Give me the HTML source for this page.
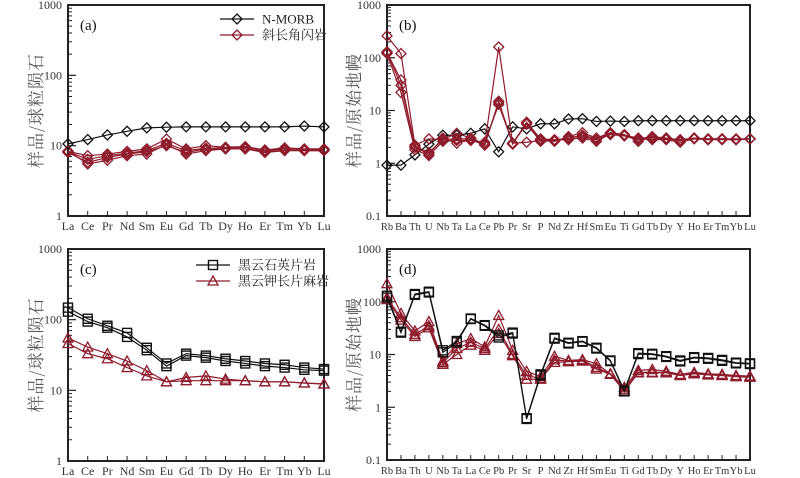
<!DOCTYPE html>
<html><head><meta charset="utf-8">
<style>
html,body{margin:0;padding:0;background:#fff;}
svg{display:block;font-family:"Liberation Serif","Noto Serif CJK SC",serif;}
</style></head>
<body>
<svg id="chart" width="800" height="478" viewBox="0 0 800 478" xmlns="http://www.w3.org/2000/svg"></svg>
<script>
// ---------- data ----------
const reeCats = ["La","Ce","Pr","Nd","Sm","Eu","Gd","Tb","Dy","Ho","Er","Tm","Yb","Lu"];
const pmCats = ["Rb","Ba","Th","U","Nb","Ta","La","Ce","Pb","Pr","Sr","P","Nd","Zr","Hf","Sm","Eu","Ti","Gd","Tb","Dy","Y","Ho","Er","Tm","Yb","Lu"];

const aMorb = [10.6,12.2,14.2,16,17.9,18.3,18.5,18.5,18.5,18.5,18.5,18.5,19,18.5];
const aAmph1 = [8.3,7.2,7.6,8.3,9,12.4,9,10,9.5,9.7,8.7,9.3,9,9];
const aAmph2 = [8.2,6.4,7.2,7.8,8.5,10.8,8.5,9.2,9.3,9.4,8.5,9,8.8,8.8];
const aAmph3 = [8.0,5.8,6.8,7.6,8.2,10.0,8.0,9,9,9,8.2,8.6,8.5,8.5];
const aAmph4 = [8.4,5.5,6.2,7.2,7.6,10.4,7.6,8.5,9,9,8.0,8.5,8.5,8.5];

const bMorb = [0.92,0.92,1.44,2.3,3.4,3.4,3.7,4.5,1.65,4.9,4.5,5.6,5.6,6.9,7,6.2,6.3,6.2,6.4,6.4,6.4,6.4,6.4,6.4,6.4,6.4,6.4];
const bAmph1 = [260,120,2.2,2.9,2.8,3.7,3.0,2.3,160,2.4,2.5,2.7,2.6,3.2,3.8,3.0,3.8,3.5,2.6,3.1,3.0,2.7,3.0,2.9,2.9,2.8,2.9];
const bAmph2 = [125,38,2.0,1.5,3.0,2.4,2.8,2.2,15,2.3,6,2.9,2.8,2.8,3.2,2.8,3.5,3.3,2.8,3.0,2.9,2.7,3.0,2.8,2.9,2.8,2.9];
const bAmph3 = [120,22,1.8,1.4,2.6,2.7,2.7,2.5,13,2.4,5.5,2.6,2.7,2.9,3.0,2.6,3.6,3.4,3.0,2.8,2.8,2.5,2.9,2.8,2.8,2.8,2.9];
const bAmph4 = [130,30,2.1,1.6,2.8,2.9,2.9,2.3,14,2.4,5.8,2.8,2.7,3.0,3.4,2.9,3.7,3.4,2.9,3.2,3.0,2.8,3.0,2.9,2.9,2.9,2.9];

const cSchist1 = [148,103,82,65,40,24,33,31,28,26,24,23,21,20];
const cSchist2 = [130,94,77,57,37,22,31,29,26,24,22,21,19.5,19];
const cGneiss1 = [55,41,33,26,19,13.2,15.2,16,14.4,13.7,13.2,13.2,12.7,12.3];
const cGneiss2 = [46,33,28,21,16,13.2,13.7,13.7,13.7,13.7,13.2,13.2,12.7,12.3];

const dSchist1 = [130,27,140,155,12,18,48,36,23,26,0.62,4.2,20.7,16.7,17.9,13.4,7.7,2.07,10.6,10.3,9.3,7.7,8.9,8.6,7.9,7.0,6.8];
const dSchist2 = [120,26,135,150,11,17,47,35,21,25,0.6,4.0,20,16.2,17.5,13,7.5,2.0,10.2,10,9,7.4,8.6,8.3,7.6,6.8,6.6];
const dGneiss1 = [220,60,28,42,7.5,16,20,14,55,12,4.8,3.8,9.3,7.7,8,6.7,4.3,2.4,5,5.2,4.8,4.2,4.6,4.3,4.2,4,3.9];
const dGneiss2 = [120,50,24,35,7,13,17,13,30,10,4,3.5,7.9,7.5,7.8,5.7,4.3,2.2,4.6,4.6,4.6,4.0,4.4,4.2,4.0,3.9,3.8];
const dGneiss3 = [110,45,22,32,6.5,10,15,12,25,9.5,3.4,3.4,7.1,7.3,7.5,5.3,4.2,2.0,4.5,4.5,4.5,4.0,4.3,4.1,4.0,3.8,3.7];

const aTicks = [1,10,100,1000];
const bTicks = [0.1,1,10,100,1000];

// ---------- drawing ----------
const NS = "http://www.w3.org/2000/svg";
const svg = document.getElementById("chart");
const RED = "#8e1b2c";
function mk(tag, attrs, parent){
  const e = document.createElementNS(NS, tag);
  for (const k in attrs) e.setAttribute(k, attrs[k]);
  (parent||svg).appendChild(e);
  return e;
}
function panel(p){
  const g = mk("g", {});
  
  
  const lmin = Math.log10(p.ymin), lmax = Math.log10(p.ymax);
  const yS = v => p.y1 - (Math.log10(v) - lmin) / (lmax - lmin) * (p.y1 - p.y0);
  const n = p.cats.length;
  const xS = i => p.x0 + i * (p.x1 - p.x0) / (n - 1);
  const fr = mk("rect", {x:p.x0, y:p.y0, width:p.x1-p.x0, height:p.y1-p.y0, fill:"none", stroke:"#222", "stroke-width":2}, g);
  
  
  for (let d = Math.round(lmin); d < Math.round(lmax); d++){
    for (let m = 2; m <= 9; m++){
      const y = yS(m * Math.pow(10, d));
      mk("line", {x1:p.x0, x2:p.x0+4, y1:y, y2:y, stroke:"#222", "stroke-width":1}, g);
    }
  }
  p.ticks.forEach(t => {
    const y = yS(t);
    mk("line", {x1:p.x0, x2:p.x0+8, y1:y, y2:y, stroke:"#222", "stroke-width":1.2}, g);
    const tx = mk("text", {x:p.x0-6, y:y+4, "text-anchor":"end", "font-size":12, fill:"#333"}, g);
    tx.textContent = String(t);
    
    
  });
  p.cats.forEach((c, i) => {
    const x = xS(i);
    mk("line", {x1:x, x2:x, y1:p.y1, y2:p.y1-5, stroke:"#222", "stroke-width":1}, g);
    const tx = mk("text", {x:x, y:p.y1+14, "text-anchor":"middle", "font-size":p.xfs, fill:"#333"}, g);
    tx.textContent = c;
    
    
  });
  const cy = (p.y0 + p.y1) / 2;
  const yt = mk("text", {x:p.titleX, y:cy, transform:`rotate(-90 ${p.titleX} ${cy})`, "text-anchor":"middle", "font-size":17, fill:"#555", "letter-spacing":"1", "font-family":"'Noto Serif CJK SC','Noto Sans CJK SC',serif"}, g);
  yt.textContent = p.title;
  
  
  const pl = mk("text", {x:p.x0+12, y:p.y0+25, "font-size":15, fill:"#111"}, g);
  pl.textContent = p.label;
  
  
  p.series.forEach(s => {
    const pts = s.vals.map((v, i) => [xS(i), yS(v)]);
    const ln = mk("polyline", {points:pts.map(q => q.join(",")).join(" "), fill:"none", stroke:s.color, "stroke-width":1.2}, g);
    
    
    pts.forEach(q => {
      const m = marker(s.marker, q[0], q[1], s.color, g);
      
      
    });
  });
  return g;
}
function marker(type, x, y, color, g){
  if (type === "diamond"){
    const r = 5;
    return mk("polygon", {points:`${x},${y-r} ${x+r},${y} ${x},${y+r} ${x-r},${y}`, fill:"none", stroke:color, "stroke-width":1.3}, g);
  } else if (type === "square"){
    const r = 4.5;
    return mk("rect", {x:x-r, y:y-r, width:2*r, height:2*r, fill:"none", stroke:color, "stroke-width":1.4}, g);
  } else {
    const r = 5;
    return mk("polygon", {points:`${x},${y-r} ${x+r},${y+r*0.8} ${x-r},${y+r*0.8}`, fill:"none", stroke:color, "stroke-width":1.3}, g);
  }
}
function legend(x, y, items){
  items.forEach((it, k) => {
    const yy = y + k * 16;
    const gl = mk("g", {});
    
    
    mk("line", {x1:x, x2:x+34, y1:yy, y2:yy, stroke:it.color, "stroke-width":1.3}, gl);
    marker(it.marker, x+17, yy, it.color, gl);
    const t = mk("text", {x:x+42, y:yy+4.5, "font-size":13, fill:"#222", "font-family":"'Liberation Serif','Noto Serif CJK SC',serif"}, gl);
    t.textContent = it.text;
  });
}

panel({name:"panel-a", label:"(a)", x0:68, x1:324, y0:5, y1:216, ymin:1, ymax:1000, ticks:aTicks, cats:reeCats, xfs:12, titleX:42, title:"样品/球粒陨石",
  series:[
    {name:"amphibolite-1", vals:aAmph1, color:RED, marker:"diamond"},
    {name:"amphibolite-2", vals:aAmph2, color:RED, marker:"diamond"},
    {name:"amphibolite-3", vals:aAmph3, color:RED, marker:"diamond"},
    {name:"amphibolite-4", vals:aAmph4, color:RED, marker:"diamond"},
    {name:"n-morb", vals:aMorb, color:"#111", marker:"diamond"}]});
legend(220, 19, [{color:"#111", marker:"diamond", text:"N-MORB"},{color:RED, marker:"diamond", text:"斜长角闪岩"}]);

panel({name:"panel-b", label:"(b)", x0:387, x1:750, y0:5, y1:216, ymin:0.1, ymax:1000, ticks:bTicks, cats:pmCats, xfs:10.5, titleX:360, title:"样品/原始地幔",
  series:[
    {name:"n-morb", vals:bMorb, color:"#111", marker:"diamond"},
    {name:"amphibolite-1", vals:bAmph1, color:RED, marker:"diamond"},
    {name:"amphibolite-2", vals:bAmph2, color:RED, marker:"diamond"},
    {name:"amphibolite-3", vals:bAmph3, color:RED, marker:"diamond"},
    {name:"amphibolite-4", vals:bAmph4, color:RED, marker:"diamond"}]});

panel({name:"panel-c", label:"(c)", x0:68, x1:324, y0:249, y1:461, ymin:1, ymax:1000, ticks:aTicks, cats:reeCats, xfs:12, titleX:42, title:"样品/球粒陨石",
  series:[
    {name:"schist-1", vals:cSchist1, color:"#111", marker:"square"},
    {name:"schist-2", vals:cSchist2, color:"#111", marker:"square"},
    {name:"gneiss-1", vals:cGneiss1, color:RED, marker:"triangle"},
    {name:"gneiss-2", vals:cGneiss2, color:RED, marker:"triangle"}]});
legend(196, 265, [{color:"#111", marker:"square", text:"黑云石英片岩"},{color:RED, marker:"triangle", text:"黑云钾长片麻岩"}]);

panel({name:"panel-d", label:"(d)", x0:387, x1:750, y0:249, y1:460, ymin:0.1, ymax:1000, ticks:bTicks, cats:pmCats, xfs:10.5, titleX:360, title:"样品/原始地幔",
  series:[
    {name:"gneiss-1", vals:dGneiss1, color:RED, marker:"triangle"},
    {name:"gneiss-2", vals:dGneiss2, color:RED, marker:"triangle"},
    {name:"gneiss-3", vals:dGneiss3, color:RED, marker:"triangle"},
    {name:"schist-1", vals:dSchist1, color:"#111", marker:"square"},
    {name:"schist-2", vals:dSchist2, color:"#111", marker:"square"}]});
</script>
</body></html>
